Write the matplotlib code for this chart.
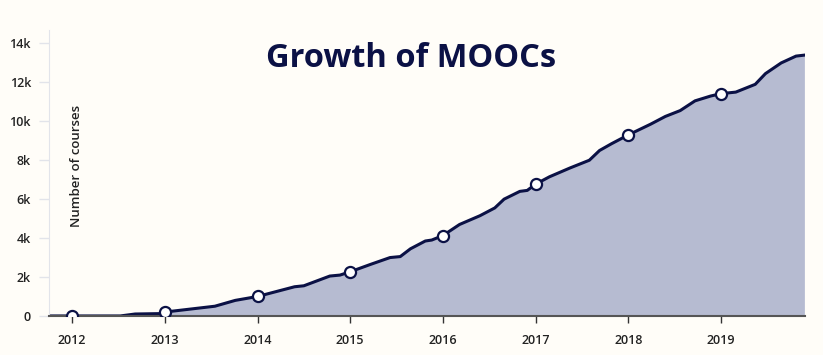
import matplotlib
matplotlib.use('Agg')
from matplotlib import pyplot as plt

# cumulative number of MOOCs
t = [2011.76, 2012.0, 2012.52, 2012.68, 2012.95, 2013.0, 2013.54, 2013.76, 2014.0,
     2014.4, 2014.5, 2014.78, 2014.89, 2015.0, 2015.22, 2015.43, 2015.54, 2015.65,
     2015.81, 2015.88, 2016.0, 2016.18, 2016.4, 2016.56, 2016.66, 2016.83, 2016.91,
     2017.0, 2017.15, 2017.37, 2017.58, 2017.69, 2017.82, 2018.0, 2018.24, 2018.4,
     2018.56, 2018.72, 2018.89, 2019.0, 2019.16, 2019.37, 2019.48, 2019.65, 2019.81,
     2019.9]
courses = [0, 0, 0, 100, 120, 200, 500, 800, 1000,
           1500, 1550, 2050, 2100, 2270, 2650, 3000, 3050, 3450,
           3850, 3900, 4130, 4700, 5150, 5550, 6000, 6400, 6450,
           6770, 7150, 7600, 8000, 8500, 8850, 9300, 9850, 10250,
           10550, 11050, 11300, 11420, 11500, 11900, 12450, 13000, 13350,
           13400]
years = [2012, 2013, 2014, 2015, 2016, 2017, 2018, 2019]
year_courses = [0, 200, 1000, 2270, 4130, 6770, 9300, 11420]
yticks = [0, 2000, 4000, 6000, 8000, 10000, 12000, 14000]
ylabels = ['0', '2k', '4k', '6k', '8k', '10k', '12k', '14k']

bg = '#fffdf8'
navy = '#0b1145'

plt.rcParams['font.family'] = ['Open Sans', 'DejaVu Sans']

fig = plt.figure(figsize=(8.23, 3.55), dpi=100, facecolor=bg)
ax = fig.add_axes([0.0595, 0.110, 0.919, 0.806], facecolor=bg)

ax.fill_between(t, courses, 0, color='#b6bbd1', lw=0)
ax.plot(t, courses, color=navy, lw=2.2, solid_joinstyle='round')
ax.plot(years, year_courses, 'o', ms=8, mfc='white', mec=navy, mew=1.6, zorder=3)

ax.set_xlim(2011.75, 2019.91)
ax.set_ylim(0, 14700)
ax.set_xticks(years)
ax.set_xticklabels([str(y) for y in years], fontsize=9, fontweight='semibold', color='#222222')
ax.set_yticks(yticks)
ax.set_yticklabels(ylabels, fontsize=9, fontweight='semibold', color='#222222')
ax.tick_params(axis='x', length=5, width=1, color='#333333', pad=8)
ax.tick_params(axis='y', length=7, width=1, color='#e2e4ea', pad=6)

for s in ['top', 'right']:
    ax.spines[s].set_visible(False)
ax.spines['left'].set_color('#e2e4ea')
ax.spines['bottom'].set_color('#555555')
ax.spines['bottom'].set_linewidth(1.5)

ax.text(2012.05, 7700, 'Number of courses', rotation=90, ha='center', va='center',
        fontsize=9.5, fontweight='semibold', color='#222222')
fig.text(0.499, 0.835, 'Growth of MOOCs', ha='center', va='center',
         fontsize=23.5, fontweight='bold', color=navy)

fig.savefig('out.png', dpi=100, facecolor=bg)
